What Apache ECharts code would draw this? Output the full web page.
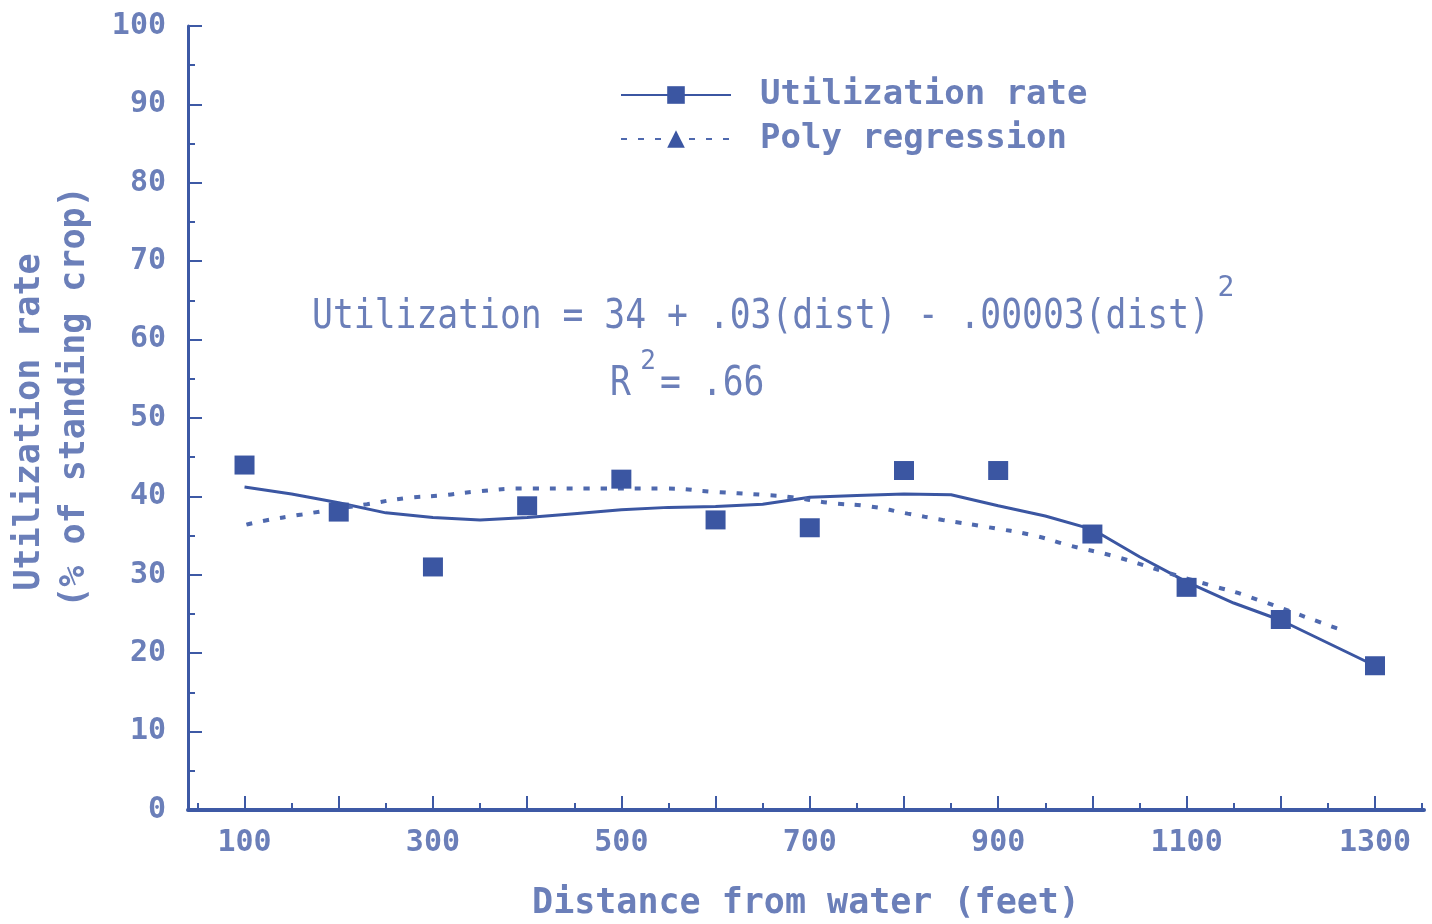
<!DOCTYPE html>
<html>
<head>
<meta charset="utf-8">
<script src="https://cdn.jsdelivr.net/npm/echarts@6/dist/echarts.min.js"></script>
<style>
html,body{margin:0;padding:0;background:#fff;}
#chart{width:1432px;height:924px;}
</style>
</head>
<body>
<div id="chart"></div>
<script>
// Observed points (distance from water, utilization %)
const obsDistance = [100, 200, 300, 400, 500, 600, 700, 800, 900, 1000, 1100, 1200, 1300];
const obsUtilization = [44, 38, 31, 38.8, 42.2, 37, 36, 43.3, 43.3, 35.2, 28.4, 24.3, 18.4];

// Smoothed utilization line
const rateDistance = [100, 150, 200, 250, 300, 350, 400, 450, 500, 550, 600, 650, 700, 750, 800, 850, 900, 950, 1000, 1050, 1100, 1150, 1200, 1250, 1300];
const rateValues = [41.2, 40.3, 39.2, 37.9, 37.3, 37.0, 37.3, 37.8, 38.3, 38.6, 38.7, 39.0, 39.9, 40.1, 40.3, 40.2, 38.8, 37.5, 35.8, 32.3, 29.1, 26.4, 24.2, 21.3, 18.4];

// Poly regression line
const polyDistance = [102, 121, 161, 230, 272, 307, 345, 395, 480, 546, 597, 650, 681, 719, 765, 804, 841, 888, 938, 977, 1022, 1076, 1127, 1159, 1259, 1267];
const polyValues = [36.4, 36.9, 37.7, 39.0, 39.8, 40.1, 40.6, 41.0, 41.0, 41.0, 40.6, 40.2, 39.9, 39.2, 38.7, 37.8, 37.0, 36.1, 35.0, 33.7, 32.4, 30.4, 28.6, 27.5, 23.2, 22.9];

// Tick values
const xMajorTicks = [100, 200, 300, 400, 500, 600, 700, 800, 900, 1000, 1100, 1200, 1300];
const xMinorTicks = [50, 150, 250, 350, 450, 550, 650, 750, 850, 950, 1050, 1150, 1250, 1350];
const xLabels = [100, 300, 500, 700, 900, 1100, 1300];

const AXIS = '#3d59a5';
const TEXT = '#6b7fb9';
const MARK = '#3b56a2';
const FONT = '"DejaVu Sans Mono", monospace';

const zip = (a, b) => a.map((v, i) => [v, b[i]]);

const chart = echarts.init(document.getElementById('chart'));
chart.setOption({
  backgroundColor: '#ffffff',
  animation: false,
  grid: { left: 188, right: 8, top: 26, bottom: 114, containLabel: false, outerBoundsMode: 'none' },
  legend: {
    data: ['Utilization rate', 'Poly regression'],
    orient: 'vertical',
    left: 615,
    top: 73,
    itemWidth: 110,
    itemHeight: 22,
    itemGap: 10,
    textStyle: { fontFamily: FONT, fontSize: 34, fontWeight: 'bold', color: TEXT, lineHeight: 30, padding: [0, 0, 0, 24] }
  },
  xAxis: [
    {
      type: 'value', min: 40, max: 1352,
      name: 'Distance from water (feet)', nameLocation: 'middle', nameGap: 76,
      nameTextStyle: { fontFamily: FONT, fontSize: 35, fontWeight: 'bold', color: TEXT, lineHeight: 36 },
      axisLine: { show: true, lineStyle: { color: AXIS, width: 4 } },
      axisTick: { show: true, inside: true, length: 14, customValues: xMajorTicks, lineStyle: { color: AXIS, width: 2 } },
      axisLabel: { customValues: xLabels, margin: 18, fontFamily: FONT, fontSize: 30, fontWeight: 'bold', color: TEXT,
                   formatter: v => String(v) },
      splitLine: { show: false }
    },
    {
      type: 'value', min: 40, max: 1352, position: 'bottom',
      axisLine: { show: false },
      axisTick: { show: true, inside: true, length: 7, customValues: xMinorTicks, lineStyle: { color: AXIS, width: 2 } },
      axisLabel: { show: false },
      splitLine: { show: false }
    }
  ],
  yAxis: {
    type: 'value', min: 0, max: 100, interval: 10,
    axisLine: { show: true, lineStyle: { color: AXIS, width: 3 } },
    axisTick: { show: true, inside: true, length: 14, lineStyle: { color: AXIS, width: 2 } },
    minorTick: { show: true, splitNumber: 2, length: 7, lineStyle: { color: AXIS, width: 2 } },
    axisLabel: { margin: 22, fontFamily: FONT, fontSize: 30, fontWeight: 'bold', color: TEXT },
    splitLine: { show: false },
    minorSplitLine: { show: false }
  },
  series: [
    {
      name: 'Utilization rate', type: 'line', data: zip(rateDistance, rateValues),
      symbol: 'rect', showSymbol: false, smooth: false,
      lineStyle: { color: MARK, width: 3 }, itemStyle: { color: MARK }
    },
    {
      name: 'Poly regression', type: 'line', data: zip(polyDistance, polyValues),
      symbol: 'triangle', showSymbol: false, smooth: true,
      lineStyle: { color: '#4f69ae', width: 4, type: [6, 11] }, itemStyle: { color: MARK }
    },
    {
      name: 'Observed', type: 'scatter', data: zip(obsDistance, obsUtilization),
      symbol: 'rect', symbolSize: [20, 19], itemStyle: { color: MARK, opacity: 1 }, z: 5
    }
  ],
  graphic: [
    { type: 'text', x: 30, y: 422, rotation: Math.PI / 2,
      style: { text: 'Utilization rate', fill: TEXT, font: 'bold 35px ' + FONT, align: 'center', verticalAlign: 'middle' } },
    { type: 'text', x: 75, y: 397, rotation: Math.PI / 2,
      style: { text: '(% of standing crop)', fill: TEXT, font: 'bold 35px ' + FONT, align: 'center', verticalAlign: 'middle' } },
    { type: 'text', x: 312, y: 317, scaleY: 1.2,
      style: { text: 'Utilization = 34 + .03(dist) - .00003(dist)', fill: TEXT, font: '34.7px ' + FONT, align: 'left', verticalAlign: 'middle' } },
    { type: 'text', x: 1226, y: 289,
      style: { text: '2', fill: TEXT, font: '28px ' + FONT, align: 'center', verticalAlign: 'middle' } },
    { type: 'text', x: 610, y: 384, scaleY: 1.2,
      style: { text: 'R', fill: TEXT, font: '34.7px ' + FONT, align: 'left', verticalAlign: 'middle' } },
    { type: 'text', x: 648, y: 362,
      style: { text: '2', fill: TEXT, font: '26px ' + FONT, align: 'center', verticalAlign: 'middle' } },
    { type: 'text', x: 660, y: 384, scaleY: 1.2,
      style: { text: '= .66', fill: TEXT, font: '34.7px ' + FONT, align: 'left', verticalAlign: 'middle' } }
  ]
});
</script>
</body>
</html>
